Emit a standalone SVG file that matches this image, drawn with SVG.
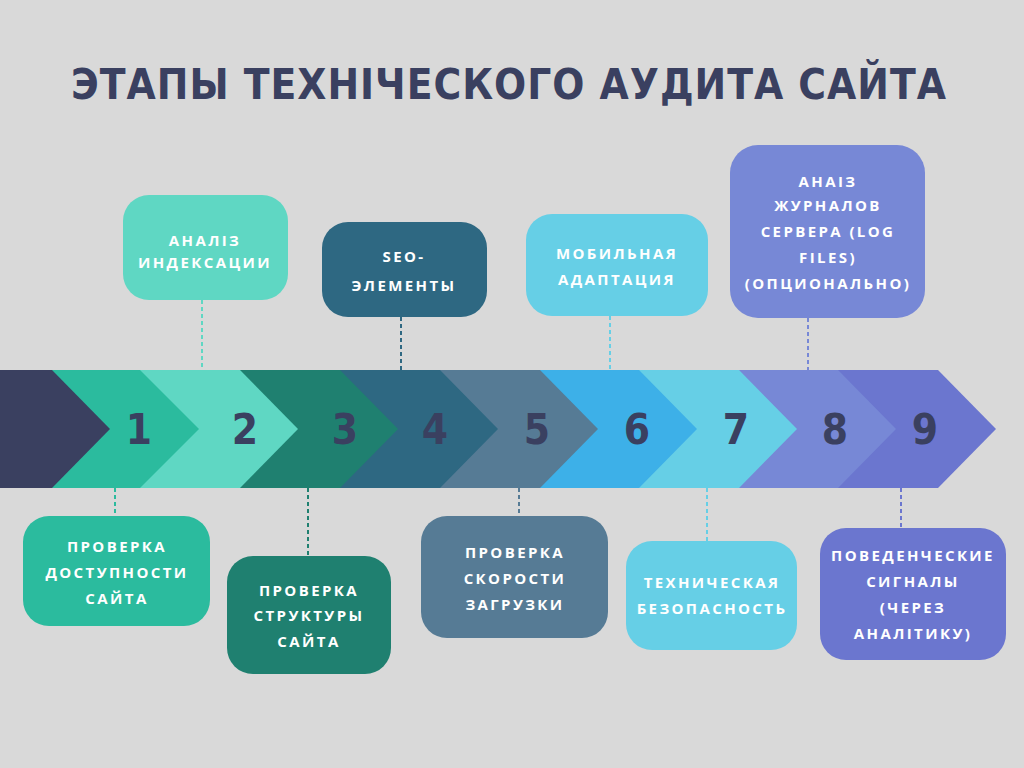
<svg xmlns="http://www.w3.org/2000/svg" width="1024" height="768" viewBox="0 0 1024 768">
<style>
.lbl{font-family:"Open Sans","DejaVu Sans",sans-serif;font-weight:700;font-size:15px;fill:#fff;letter-spacing:2.4px;text-anchor:middle}
.num{font-family:"DejaVu Sans Condensed","DejaVu Sans",sans-serif;font-weight:700;font-size:42px;fill:#3a4060;text-anchor:middle}
.con{stroke-width:2;stroke-dasharray:4 3;fill:none}
</style>
<rect width="1024" height="768" fill="#d9d9d9"/>
<text x="509" y="99" font-family="'DejaVu Sans Condensed','DejaVu Sans',sans-serif" font-weight="700" font-size="42" fill="#3a4060" text-anchor="middle" letter-spacing="1">ЭТАПЫ ТЕХНІЧЕСКОГО АУДИТА САЙТА</text>
<g id="band">
<polygon points="838,370 938,370 996,429 938,488 838,488" fill="#6b76cf"/>
<polygon points="738,370 838,370 896,429 838,488 738,488" fill="#7788d6"/>
<polygon points="639,370 739,370 797,429 739,488 639,488" fill="#66cfe6"/>
<polygon points="540,370 639,370 697,429 639,488 540,488" fill="#3db0e8"/>
<polygon points="440,370 540,370 598,429 540,488 440,488" fill="#567b95"/>
<polygon points="340,370 440,370 498,429 440,488 340,488" fill="#2e6882"/>
<polygon points="240,370 340,370 398,429 340,488 240,488" fill="#1f8070"/>
<polygon points="140,370 240,370 298,429 240,488 140,488" fill="#5fd7c3"/>
<polygon points="52,370 140,370 199,429 140,488 52,488" fill="#2bbb9e"/>
<polygon points="0,370 52,370 110,429 52,488 0,488" fill="#3a4060"/>
<text class="num" x="139" y="444">1</text>
<text class="num" x="245" y="444">2</text>
<text class="num" x="345" y="444">3</text>
<text class="num" x="435" y="444">4</text>
<text class="num" x="537" y="444">5</text>
<text class="num" x="637" y="444">6</text>
<text class="num" x="736" y="444">7</text>
<text class="num" x="835" y="444">8</text>
<text class="num" x="925" y="444">9</text>
</g>
<g id="connectors">
<line class="con" x1="202" y1="300" x2="202" y2="370" stroke="#5fd7c3"/>
<line class="con" x1="401" y1="317" x2="401" y2="370" stroke="#2e6882"/>
<line class="con" x1="610" y1="316" x2="610" y2="370" stroke="#66cfe6"/>
<line class="con" x1="808" y1="318" x2="808" y2="370" stroke="#7788d6"/>
<line class="con" x1="115" y1="488" x2="115" y2="516" stroke="#2bbb9e"/>
<line class="con" x1="308" y1="488" x2="308" y2="556" stroke="#1f8070"/>
<line class="con" x1="519" y1="488" x2="519" y2="516" stroke="#567b95"/>
<line class="con" x1="707" y1="488" x2="707" y2="541" stroke="#66cfe6"/>
<line class="con" x1="901" y1="488" x2="901" y2="528" stroke="#6b76cf"/>
</g>
<g id="n2"><rect x="123" y="195" width="165" height="105" rx="26" fill="#5fd7c3"/>
<text class="lbl" x="205" y="246">АНАЛІЗ</text><text class="lbl" x="205" y="268">ИНДЕКСАЦИИ</text></g>
<g id="n4"><rect x="322" y="222" width="165" height="95" rx="26" fill="#2e6882"/>
<text class="lbl" x="404" y="262">SEO-</text><text class="lbl" x="404" y="291">ЭЛЕМЕНТЫ</text></g>
<g id="n6"><rect x="526" y="214" width="182" height="102" rx="26" fill="#66cfe6"/>
<text class="lbl" x="617" y="259">МОБИЛЬНАЯ</text><text class="lbl" x="617" y="285">АДАПТАЦИЯ</text></g>
<g id="n8"><rect x="730" y="145" width="195" height="173" rx="28" fill="#7788d6"/>
<text class="lbl" x="828" y="187">АНАІЗ</text><text class="lbl" x="828" y="211">ЖУРНАЛОВ</text><text class="lbl" x="828" y="237">СЕРВЕРА (LOG</text><text class="lbl" x="828" y="263">FILES)</text><text class="lbl" x="828" y="289">(ОПЦИОНАЛЬНО)</text></g>
<g id="n1"><rect x="23" y="516" width="187" height="110" rx="26" fill="#2bbb9e"/>
<text class="lbl" x="117" y="552">ПРОВЕРКА</text><text class="lbl" x="117" y="578">ДОСТУПНОСТИ</text><text class="lbl" x="117" y="604">САЙТА</text></g>
<g id="n3"><rect x="227" y="556" width="164" height="118" rx="26" fill="#1f8070"/>
<text class="lbl" x="309" y="596">ПРОВЕРКА</text><text class="lbl" x="309" y="621">СТРУКТУРЫ</text><text class="lbl" x="309" y="647">САЙТА</text></g>
<g id="n5"><rect x="421" y="516" width="187" height="122" rx="26" fill="#567b95"/>
<text class="lbl" x="515" y="558">ПРОВЕРКА</text><text class="lbl" x="515" y="584">СКОРОСТИ</text><text class="lbl" x="515" y="610">ЗАГРУЗКИ</text></g>
<g id="n7"><rect x="626" y="541" width="171" height="109" rx="26" fill="#66cfe6"/>
<text class="lbl" x="712" y="588">ТЕХНИЧЕСКАЯ</text><text class="lbl" x="712" y="614">БЕЗОПАСНОСТЬ</text></g>
<g id="n9"><rect x="820" y="528" width="186" height="132" rx="26" fill="#6b76cf"/>
<text class="lbl" x="913" y="561">ПОВЕДЕНЧЕСКИЕ</text><text class="lbl" x="913" y="587">СИГНАЛЫ</text><text class="lbl" x="913" y="613">(ЧЕРЕЗ</text><text class="lbl" x="913" y="639">АНАЛІТИКУ)</text></g>
</svg>
